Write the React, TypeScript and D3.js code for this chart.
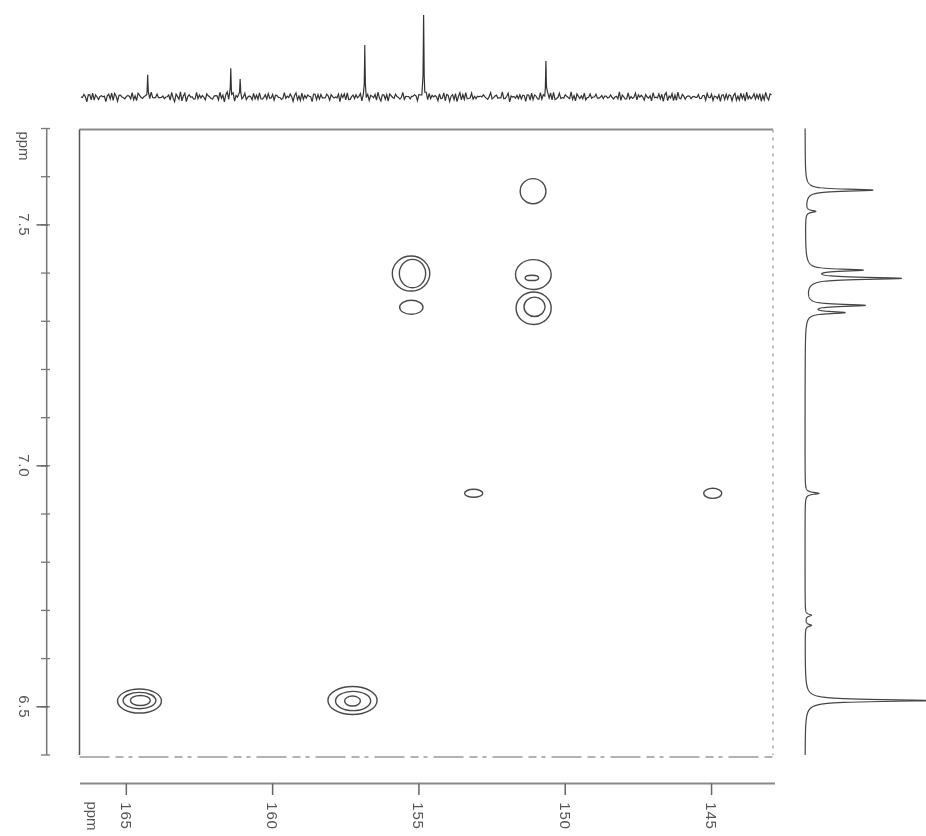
import React from "react";
import * as d3 from "d3";

const W = 926;
const H = 836;

// Axis ticks
const c13Ticks = [165, 160, 155, 150, 145];
const c13TickLabels = ["165", "160", "155", "150", "145"];
const h1MajorTicks = [7.5, 7.0, 6.5];
const h1TickLabels = ["7.5", "7.0", "6.5"];
const h1MinorTicks = [7.7, 7.6, 7.5, 7.4, 7.3, 7.2, 7.1, 7.0, 6.9, 6.8, 6.7, 6.6, 6.5, 6.4];

// HMBC cross-peak contour rings (13C ppm, 1H ppm, half-widths in ppm)
const ringC = [151.10, 155.27, 155.22, 155.26, 151.09, 151.14, 151.08, 151.05, 153.13, 144.96, 164.55, 164.55, 164.52, 157.27, 157.25, 157.27];
const ringH = [7.570, 7.399, 7.399, 7.329, 7.397, 7.390, 7.327, 7.330, 6.943, 6.943, 6.512, 6.513, 6.513, 6.513, 6.512, 6.512];
const ringWc = [0.44, 0.64, 0.45, 0.40, 0.61, 0.23, 0.60, 0.36, 0.31, 0.31, 0.75, 0.56, 0.34, 0.84, 0.60, 0.27];
const ringWh = [0.026, 0.0363, 0.0295, 0.0145, 0.031, 0.0055, 0.0336, 0.020, 0.0083, 0.0104, 0.025, 0.017, 0.0104, 0.029, 0.020, 0.0104];

// 13C projection (top) peaks
const cPeakPpm = [164.27, 161.43, 161.11, 156.85, 154.84, 150.66];
const cPeakInt = [27, 35, 22, 58, 100, 44];

// 1H projection (right) peaks
const hPeakPpm = [7.572, 7.528, 7.406, 7.389, 7.333, 7.318, 6.943, 6.690, 6.669, 6.513];
const hPeakInt = [55, 8, 44, 76, 47, 30, 11, 5, 5, 100];

// hand-read baseline noise of the 13C trace
const noiseA = [0.3, -0.6, 0.8, -0.2, -0.9, 0.5, 0.1, -0.4, 0.9, -0.7, 0.2, 0.6, -0.8, -0.1, 0.7, -0.5, 0.4, -0.9, 0.0, 0.8, -0.3, 0.5, -0.6, 0.9, -0.2, -0.7, 0.3, 0.6, -0.4, 0.1, -0.8, 0.7, -0.1, 0.4, -0.6, 0.9, -0.3, 0.2, -0.9, 0.5, 0.8, -0.5, 0.1, -0.2, 0.6, -0.7, 0.3, -0.4, 0.9, -0.1, -0.6, 0.4, 0.7, -0.8, 0.2, -0.3, 0.5, -0.9, 0.6, 0.0];
const noiseB = [-0.4, 0.7, -0.1, 0.5, -0.8, 0.2, 0.9, -0.6, 0.3, -0.3, 0.6, -0.9, 0.1, 0.4, -0.5, 0.8, -0.2, -0.7, 0.5, 0.0, -0.4, 0.9, -0.6, 0.2, 0.7, -0.8, 0.3, -0.1, 0.6, -0.5, 0.4, -0.9, 0.8, -0.3, 0.1, 0.5, -0.7, 0.2, -0.2, 0.9, -0.4, 0.6, -0.8, 0.3, -0.6, 0.7, -0.1];

const FONT = "'Liberation Sans', Arial, sans-serif";

export default function App() {
  const x = d3.scaleLinear().domain([166.6, 142.9]).range([79.5, 773]);
  const y = d3.scaleLinear().domain([7.7, 6.4]).range([128.5, 755]);

  // top 13C projection
  const yTop = d3.scaleLinear().domain([0, 100]).range([97, 15]);
  const step = 0.05;
  const cStart = 166.55;
  const cEnd = 142.95;
  const nGrid = Math.round((cStart - cEnd) / step);
  const noiseAt = (i: number) => 0.6 * noiseA[i % noiseA.length] + 0.4 * noiseB[i % noiseB.length];
  const cPts: { p: number; n: number }[] = [];
  for (let i = 0; i <= nGrid; i++) cPts.push({ p: cStart - i * step, n: noiseAt(i) });
  cPeakPpm.forEach((pk) => {
    [-0.02, -0.008, 0, 0.008, 0.02].forEach((d) => cPts.push({ p: pk + d, n: 0 }));
  });
  cPts.sort((a, b) => b.p - a.p);
  const cHw = 0.012;
  const cVal = (pt: { p: number; n: number }) =>
    pt.n * 7 + d3.sum(cPeakPpm, (pk, k) => cPeakInt[k] / (1 + ((pt.p - pk) / cHw) ** 2));
  const topLine = d3
    .line<{ p: number; n: number }>()
    .x((d) => x(d.p))
    .y((d) => yTop(cVal(d)))(cPts);

  // right 1H projection
  const xRight = d3.scaleLinear().domain([0, 100]).range([805, 923]);
  const hHw = 0.0025;
  const hPts = d3.range(0, 2601).map((i) => 7.7 - i * 0.0005);
  const hVal = (p: number) =>
    d3.sum(hPeakPpm, (pk, k) => {
      const d = p - pk;
      return hPeakInt[k] / (1 + (d / hHw) ** 2) + (0.05 * hPeakInt[k]) / (1 + (d / 0.015) ** 2);
    });
  const rightLine = d3
    .line<number>()
    .x((p) => xRight(hVal(p)))
    .y((p) => y(p))(hPts);

  const frameL = x(166.6);
  const frameR = x(142.9);
  const frameT = 129.5;
  const frameB = 755;

  return (
    <svg width={W} height={H} style={{ display: "block", position: "absolute", left: 0, top: 0, background: "#fff" }}>
      <defs>
        <filter id="soft" x="-5%" y="-5%" width="110%" height="110%">
          <feGaussianBlur stdDeviation="0.45" />
        </filter>
      </defs>
      <rect x={0} y={0} width={W} height={H} fill="#fff" />
      <g filter="url(#soft)">
        {/* top projection */}
        <path d={topLine ?? ""} fill="none" stroke="#333" strokeWidth={1.2} />
        {/* right projection */}
        <path d={rightLine ?? ""} fill="none" stroke="#444" strokeWidth={1.2} />

        {/* frame */}
        <line x1={frameL} x2={frameR} y1={frameT} y2={frameT} stroke="#8a8a8a" strokeWidth={2} />
        <line x1={frameL} x2={frameL} y1={frameT} y2={frameB} stroke="#555" strokeWidth={1.5} />
        <line x1={frameR} x2={frameR} y1={frameT} y2={frameB} stroke="#aaa" strokeWidth={1.5} strokeDasharray="3 5" />
        <line x1={frameL} x2={frameR} y1={frameB + 2} y2={frameB + 2} stroke="#999" strokeWidth={1.5} strokeDasharray="30 6 8 5 4 6" />

        {/* contour rings */}
        {ringC.map((c, i) => (
          <ellipse
            key={"r" + i}
            cx={x(c)}
            cy={y(ringH[i])}
            rx={Math.abs(x(c + ringWc[i]) - x(c))}
            ry={Math.abs(y(ringH[i] + ringWh[i]) - y(ringH[i]))}
            fill="none"
            stroke="#4a4a4a"
            strokeWidth={1.4}
          />
        ))}

        {/* left 1H axis */}
        <line x1={46.7} x2={46.7} y1={y(7.7)} y2={y(6.4)} stroke="#777" strokeWidth={1.5} />
        {h1MinorTicks.map((t) => (
          <line key={"mt" + t} x1={41} x2={50} y1={y(t)} y2={y(t)} stroke="#777" strokeWidth={1.3} />
        ))}
        {h1MajorTicks.map((t) => (
          <line key={"Mt" + t} x1={36.5} x2={48} y1={y(t)} y2={y(t)} stroke="#666" strokeWidth={1.5} />
        ))}
        {h1MajorTicks.map((t, i) => (
          <text
            key={"hl" + t}
            transform={`translate(24,${y(t)}) rotate(90)`}
            textAnchor="middle"
            dominantBaseline="central"
            fontFamily={FONT}
            fontSize={15}
            letterSpacing={0.8}
            fill="#555"
          >
            {h1TickLabels[i]}
          </text>
        ))}
        <text
          transform={`translate(24,146) rotate(90)`}
          textAnchor="middle"
          dominantBaseline="central"
          fontFamily={FONT}
          fontSize={15}
          fill="#555"
        >
          ppm
        </text>

        {/* bottom 13C axis */}
        <line x1={80} x2={775} y1={783.5} y2={783.5} stroke="#888" strokeWidth={1.8} />
        {c13Ticks.map((t) => (
          <line key={"ct" + t} x1={x(t)} x2={x(t)} y1={783.5} y2={795} stroke="#666" strokeWidth={1.5} />
        ))}
        {c13Ticks.map((t, i) => (
          <text
            key={"cl" + t}
            transform={`translate(${x(t)},816) rotate(90)`}
            textAnchor="middle"
            dominantBaseline="central"
            fontFamily={FONT}
            fontSize={15}
            letterSpacing={0.8}
            fill="#555"
          >
            {c13TickLabels[i]}
          </text>
        ))}
        <text
          transform={`translate(92,816) rotate(90)`}
          textAnchor="middle"
          dominantBaseline="central"
          fontFamily={FONT}
          fontSize={15}
          fill="#555"
        >
          ppm
        </text>
      </g>
    </svg>
  );
}
